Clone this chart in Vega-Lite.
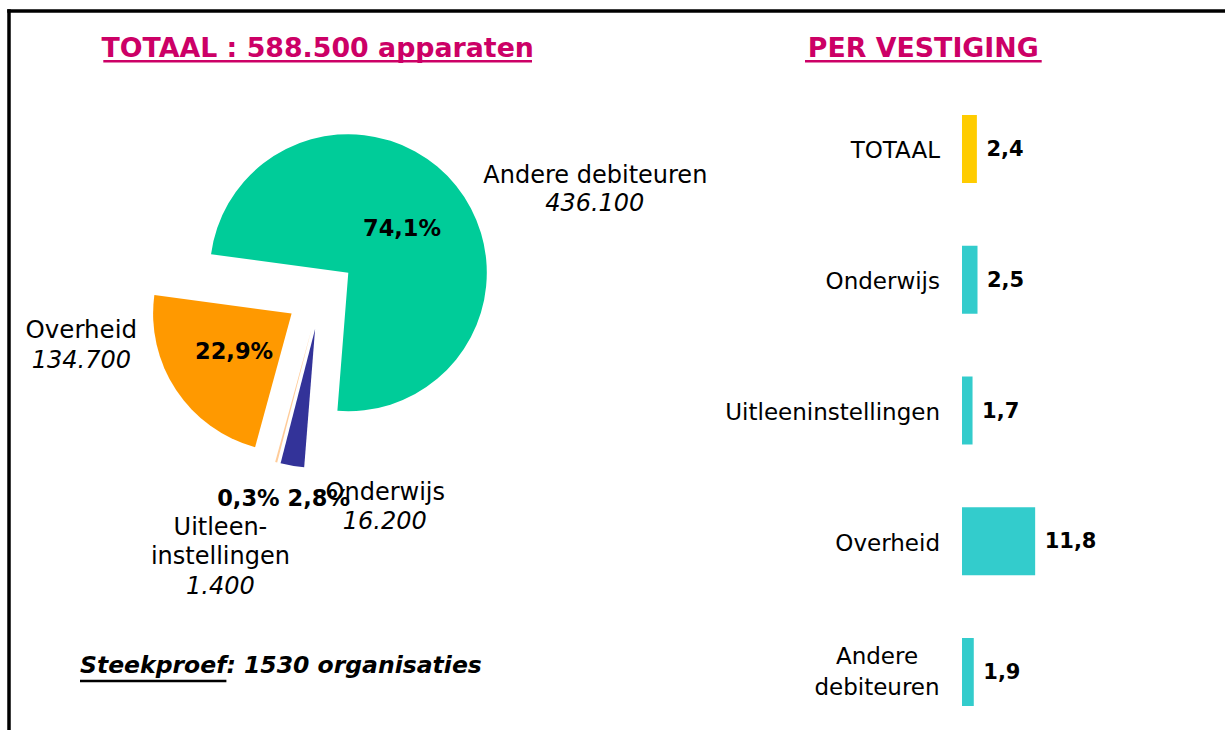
{
  "$schema": "https://vega.github.io/schema/vega-lite/v6.json",
  "width": 1216,
  "height": 719,
  "autosize": {"type": "none"},
  "padding": {"left": 9, "top": 11, "right": 0, "bottom": 0},
  "background": "white",
  "config": {
    "view": {"stroke": null, "fill": "white"},
    "font": "DejaVu Sans",
    "text": {"font": "DejaVu Sans"},
    "locale": {"number": {"decimal": ",", "thousands": ".", "grouping": [3], "currency": ["€", ""]}}
  },
  "datasets": {
    "sectoren": [
      {"sector": "Andere debiteuren", "label": "Andere debiteuren", "apparaten": 436100, "aandeel": 0.741, "volgorde": 1},
      {"sector": "Onderwijs", "label": "Onderwijs", "apparaten": 16200, "aandeel": 0.028, "volgorde": 2},
      {"sector": "Uitleeninstellingen", "label": "Uitleen-\ninstellingen", "apparaten": 1400, "aandeel": 0.003, "volgorde": 3},
      {"sector": "Overheid", "label": "Overheid", "apparaten": 134700, "aandeel": 0.229, "volgorde": 4}
    ],
    "vestigingen": [
      {"vestiging": "TOTAAL", "gemiddeld": 2.4},
      {"vestiging": "Onderwijs", "gemiddeld": 2.5},
      {"vestiging": "Uitleeninstellingen", "gemiddeld": 1.7},
      {"vestiging": "Overheid", "gemiddeld": 11.8},
      {"vestiging": "Andere debiteuren", "gemiddeld": 1.9}
    ],
    "teksten": [{"titel": "TOTAAL : 588.500 apparaten", "titel2": "PER VESTIGING", "voet": "Steekproef: 1530 organisaties"}]
  },
  "layer": [
    {
      "data": {"name": "teksten"},
      "layer": [
        {"mark": {"type": "rule", "strokeWidth": 3.5, "color": "#000000"},
         "encoding": {"x": {"value": -1.75}, "x2": {"value": "width"}, "y": {"value": 0}}},
        {"mark": {"type": "rule", "strokeWidth": 3.5, "color": "#000000"},
         "encoding": {"y": {"value": -1.75}, "y2": {"value": "height"}, "x": {"value": 0}}},
        {"mark": {"type": "text", "x": 308.7, "y": 45.5, "align": "center", "baseline": "alphabetic", "fontWeight": "bold", "fontSize": 26.8, "fill": "#CC0066"}, "encoding": {"text": {"field": "titel"}}},
        {"mark": {"type": "text", "x": 914.3, "y": 45.5, "align": "center", "baseline": "alphabetic", "fontWeight": "bold", "fontSize": 26.8, "fill": "#CC0066"}, "encoding": {"text": {"field": "titel2"}}},
        {"mark": {"type": "rule", "strokeWidth": 2.5, "color": "#CC0066"},
         "encoding": {"x": {"value": 94.3}, "x2": {"value": 523}, "y": {"value": 50.3}}},
        {"mark": {"type": "rule", "strokeWidth": 2.5, "color": "#CC0066"},
         "encoding": {"x": {"value": 796}, "x2": {"value": 1032.7}, "y": {"value": 50.3}}},
        {"mark": {"type": "text", "x": 71, "y": 662.3, "align": "left", "baseline": "alphabetic", "fontWeight": "bold", "fontStyle": "italic", "fontSize": 23.5, "fill": "#000000"}, "encoding": {"text": {"field": "voet"}}},
        {"mark": {"type": "rule", "strokeWidth": 2.5, "color": "#000000"},
         "encoding": {"x": {"value": 71}, "x2": {"value": 217.4}, "y": {"value": 670}}}
      ]
    },
    {
      "data": {"name": "sectoren"},
      "encoding": {
        "theta": {"field": "apparaten", "type": "quantitative", "stack": true, "scale": {"range": [-1.4364, 4.8468]}},
        "order": {"field": "volgorde", "type": "quantitative"}
      },
      "layer": [
        {"mark": {"type": "arc", "x": 339.3, "y": 261.7, "outerRadius": 138.5},
         "encoding": {"color": {"field": "sector", "type": "nominal", "scale": {"domain": ["Andere debiteuren", "Onderwijs", "Uitleeninstellingen", "Overheid"], "range": ["#00CC99", "#333399", "#FFCC99", "#FF9900"]}, "legend": null},
                      "opacity": {"condition": {"test": "datum.sector === 'Andere debiteuren'", "value": 1}, "value": 0}}},
        {"mark": {"type": "arc", "x": 306.1, "y": 318.1, "outerRadius": 138.5},
         "encoding": {"color": {"field": "sector", "type": "nominal", "legend": null},
                      "opacity": {"condition": {"test": "datum.sector === 'Onderwijs'", "value": 1}, "value": 0}}},
        {"mark": {"type": "arc", "x": 302.7, "y": 317.4, "outerRadius": 138.5},
         "encoding": {"color": {"field": "sector", "type": "nominal", "legend": null},
                      "opacity": {"condition": {"test": "datum.sector === 'Uitleeninstellingen'", "value": 1}, "value": 0}}},
        {"mark": {"type": "arc", "x": 282.6, "y": 302.6, "outerRadius": 138.5},
         "encoding": {"color": {"field": "sector", "type": "nominal", "legend": null},
                      "opacity": {"condition": {"test": "datum.sector === 'Overheid'", "value": 1}, "value": 0}}},

        {"mark": {"type": "text", "x": 339.3, "y": 261.7, "radius": 69, "align": "center", "baseline": "middle", "fontWeight": "bold", "fontSize": 22.5, "fill": "#000000"},
         "encoding": {"text": {"field": "aandeel", "type": "quantitative", "format": ".1%"}, "opacity": {"condition": {"test": "datum.sector === 'Andere debiteuren'", "value": 1}, "value": 0}}},
        {"mark": {"type": "text", "x": 282.6, "y": 302.6, "radius": 69, "align": "center", "baseline": "middle", "fontWeight": "bold", "fontSize": 22.5, "fill": "#000000"},
         "encoding": {"text": {"field": "aandeel", "type": "quantitative", "format": ".1%"}, "opacity": {"condition": {"test": "datum.sector === 'Overheid'", "value": 1}, "value": 0}}},
        {"mark": {"type": "text", "x": 306.1, "y": 318.1, "radius": 170, "dx": 31.7, "dy": 1.8, "align": "center", "baseline": "middle", "fontWeight": "bold", "fontSize": 22.5, "fill": "#000000"},
         "encoding": {"text": {"field": "aandeel", "type": "quantitative", "format": ".1%"}, "opacity": {"condition": {"test": "datum.sector === 'Onderwijs'", "value": 1}, "value": 0}}},
        {"mark": {"type": "text", "x": 302.7, "y": 317.4, "radius": 175, "dx": -18.4, "dy": 1.3, "align": "center", "baseline": "middle", "fontWeight": "bold", "fontSize": 22.5, "fill": "#000000"},
         "encoding": {"text": {"field": "aandeel", "type": "quantitative", "format": ".1%"}, "opacity": {"condition": {"test": "datum.sector === 'Uitleeninstellingen'", "value": 1}, "value": 0}}},

        {"mark": {"type": "text", "x": 339.3, "y": 261.7, "radius": 150, "dx": 130.3, "dy": 4, "align": "center", "baseline": "alphabetic", "fontSize": 24, "fill": "#000000"},
         "encoding": {"text": {"field": "label"}, "opacity": {"condition": {"test": "datum.sector === 'Andere debiteuren'", "value": 1}, "value": 0}}},
        {"mark": {"type": "text", "x": 339.3, "y": 261.7, "radius": 150, "dx": 129.7, "dy": 32.5, "align": "center", "baseline": "alphabetic", "fontSize": 24, "fontStyle": "italic", "fill": "#000000"},
         "encoding": {"text": {"field": "apparaten", "type": "quantitative", "format": ","}, "opacity": {"condition": {"test": "datum.sector === 'Andere debiteuren'", "value": 1}, "value": 0}}},
        {"mark": {"type": "text", "x": 282.6, "y": 302.6, "radius": 150, "dx": -85.2, "dy": -58.4, "align": "center", "baseline": "alphabetic", "fontSize": 24.5, "fill": "#000000"},
         "encoding": {"text": {"field": "label"}, "opacity": {"condition": {"test": "datum.sector === 'Overheid'", "value": 1}, "value": 0}}},
        {"mark": {"type": "text", "x": 282.6, "y": 302.6, "radius": 150, "dx": -85.2, "dy": -28.4, "align": "center", "baseline": "alphabetic", "fontSize": 24, "fontStyle": "italic", "fill": "#000000"},
         "encoding": {"text": {"field": "apparaten", "type": "quantitative", "format": ","}, "opacity": {"condition": {"test": "datum.sector === 'Overheid'", "value": 1}, "value": 0}}},
        {"mark": {"type": "text", "x": 306.1, "y": 318.1, "radius": 170, "dx": 98.2, "dy": 3.3, "align": "center", "baseline": "alphabetic", "fontSize": 24, "fill": "#000000"},
         "encoding": {"text": {"field": "label"}, "opacity": {"condition": {"test": "datum.sector === 'Onderwijs'", "value": 1}, "value": 0}}},
        {"mark": {"type": "text", "x": 306.1, "y": 318.1, "radius": 170, "dx": 97.7, "dy": 31.8, "align": "center", "baseline": "alphabetic", "fontSize": 24, "fontStyle": "italic", "fill": "#000000"},
         "encoding": {"text": {"field": "apparaten", "type": "quantitative", "format": ","}, "opacity": {"condition": {"test": "datum.sector === 'Onderwijs'", "value": 1}, "value": 0}}},
        {"mark": {"type": "text", "x": 302.7, "y": 317.4, "radius": 175, "dx": -46.4, "dy": 37.8, "align": "center", "baseline": "alphabetic", "fontSize": 24, "lineBreak": "\n", "lineHeight": 29, "fill": "#000000"},
         "encoding": {"text": {"field": "label"}, "opacity": {"condition": {"test": "datum.sector === 'Uitleeninstellingen'", "value": 1}, "value": 0}}},
        {"mark": {"type": "text", "x": 302.7, "y": 317.4, "radius": 175, "dx": -46.4, "dy": 96.3, "align": "center", "baseline": "alphabetic", "fontSize": 24, "fontStyle": "italic", "fill": "#000000"},
         "encoding": {"text": {"field": "apparaten", "type": "quantitative", "format": ","}, "opacity": {"condition": {"test": "datum.sector === 'Uitleeninstellingen'", "value": 1}, "value": 0}}}
      ]
    },
    {
      "data": {"name": "vestigingen"},
      "encoding": {
        "y": {"field": "vestiging", "type": "nominal", "sort": null, "axis": null,
              "scale": {"domain": ["TOTAAL", "Onderwijs", "Uitleeninstellingen", "Overheid", "Andere debiteuren"], "range": [72.6, 726.4], "paddingInner": 0.48, "paddingOuter": 0.24}}
      },
      "layer": [
        {"mark": {"type": "bar"},
         "encoding": {
           "x": {"field": "gemiddeld", "type": "quantitative", "axis": null, "scale": {"domain": [0, 12], "range": [953, 1027.4], "nice": false}},
           "color": {"condition": {"test": "datum.vestiging === 'TOTAAL'", "value": "#FFCC00"}, "value": "#33CCCC"}
         }},
        {"mark": {"type": "text", "align": "left", "baseline": "middle", "dx": 9.5, "dy": 1, "fontWeight": "bold", "fontSize": 21, "fill": "#000000"},
         "encoding": {
           "x": {"field": "gemiddeld", "type": "quantitative"},
           "text": {"field": "gemiddeld", "type": "quantitative", "format": ".1f"}
         }},
        {"transform": [{"filter": "datum.vestiging !== 'Andere debiteuren'"}],
         "mark": {"type": "text", "align": "right", "baseline": "middle", "dx": -22, "dy": 2.5, "fontSize": 23, "fill": "#000000"},
         "encoding": {
           "x": {"datum": 0, "type": "quantitative"},
           "text": {"field": "vestiging"}
         }},
        {"transform": [{"filter": "datum.vestiging === 'Andere debiteuren'"}],
         "mark": {"type": "text", "align": "center", "baseline": "middle", "dx": -85, "dy": -15.5, "fontSize": 23, "lineBreak": " ", "lineHeight": 31, "fill": "#000000"},
         "encoding": {
           "x": {"datum": 0, "type": "quantitative"},
           "text": {"field": "vestiging"}
         }}
      ]
    }
  ]
}
